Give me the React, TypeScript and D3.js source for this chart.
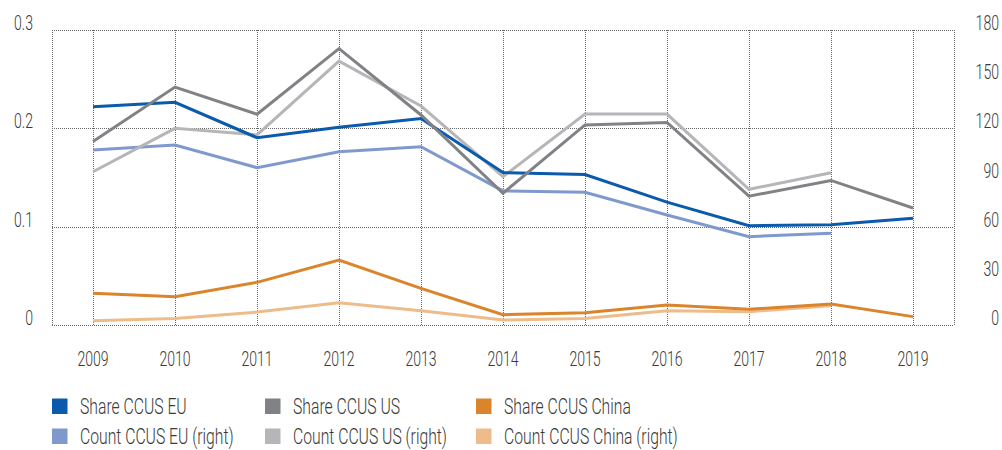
import React, { useRef, useEffect } from 'react';
import * as d3 from 'd3';

// values
const years = ['2009', '2010', '2011', '2012', '2013', '2014', '2015', '2016', '2017', '2018', '2019'];

const shareEU = [0.222, 0.2265, 0.1905, 0.201, 0.21, 0.155, 0.153, 0.125, 0.101, 0.102, 0.1085];
const shareUS = [0.1865, 0.242, 0.2143, 0.281, 0.2136, 0.134, 0.2035, 0.206, 0.131, 0.147, 0.119];
const shareChina = [0.0322, 0.0288, 0.0434, 0.066, 0.0373, 0.0105, 0.0125, 0.0203, 0.016, 0.0214, 0.0085];

const countEU = [106.8, 109.8, 96, 105.7, 108.8, 81.8, 81, 67.1, 53.9, 56, null];
const countUS = [93.5, 120, 116, 161, 133.6, 90.5, 128.7, 128.7, 82.8, 92.9, null];
const countChina = [2.6, 3.9, 7.9, 13.6, 8.7, 3, 4, 8.7, 8.1, 11.8, null];

const leftTicks = [0, 0.1, 0.2, 0.3];
const rightTicks = [0, 30, 60, 90, 120, 150, 180];

const FONT = 'Roboto, "Noto Sans", sans-serif';

const App = () => {
	const svgRef = useRef<SVGSVGElement>(null);

	useEffect(() => {
		const width = 1002;
		const height = 450;
		const left = 52, right = 954, top = 30, bottom = 325;

		const svg = d3.select(svgRef.current)
			.attr('width', width)
			.attr('height', height)
			.style('background', '#fff');
		svg.selectAll('*').remove();

		// scales
		const x = d3.scaleBand().domain(years).range([left, right]);
		const cx = (d: string) => (x(d) as number) + x.bandwidth() / 2;
		const yLeft = d3.scaleLinear().domain([0, 0.3]).range([bottom, top]);
		const yRight = d3.scaleLinear().domain([0, 180]).range([bottom, top]);

		// the original font is a condensed one: place with translate, then squeeze horizontally
		const place = (sel: any, fx: (d: any) => number, fy: (d: any) => number, size: number, squeeze: number) =>
			sel.attr('transform', (d: any) => `translate(${fx(d)}, ${fy(d)}) scale(${squeeze}, 1)`)
				.attr('font-family', FONT)
				.attr('font-size', size)
				.attr('font-weight', 300)
				.attr('fill', '#3a3a3a');

		// dotted grid
		const grid = svg.append('g')
			.attr('stroke', '#666')
			.attr('stroke-width', 1)
			.attr('stroke-dasharray', '1,1')
			.attr('shape-rendering', 'crispEdges');

		grid.selectAll('.hline')
			.data(leftTicks)
			.join('line')
				.attr('x1', left)
				.attr('x2', right)
				.attr('y1', d => Math.round(yLeft(d)) + 0.5)
				.attr('y2', d => Math.round(yLeft(d)) + 0.5);

		grid.selectAll('.vline')
			.data([left, ...years.map(cx), right])
			.join('line')
				.attr('x1', d => Math.round(d) + 0.5)
				.attr('x2', d => Math.round(d) + 0.5)
				.attr('y1', top)
				.attr('y2', bottom);

		// left axis
		place(svg.append('g')
			.selectAll('text')
			.data(leftTicks)
			.join('text')
				.attr('text-anchor', 'end')
				.text(d => d === 0 ? '0' : d3.format('.1f')(d)),
			() => 33, d => yLeft(d), 21, 0.67);

		// right axis
		place(svg.append('g')
			.selectAll('text')
			.data(rightTicks)
			.join('text')
				.attr('text-anchor', 'end')
				.text(d => d),
			() => 999, d => yRight(d), 21, 0.67);

		// x axis labels
		place(svg.append('g')
			.selectAll('text')
			.data(years)
			.join('text')
				.attr('text-anchor', 'middle')
				.text(d => d),
			d => cx(d), () => 366, 21, 0.67);

		// lines
		const series = [
			{ name: 'Count CCUS EU (right)', values: countEU, color: '#8099cd', scale: yRight },
			{ name: 'Count CCUS US (right)', values: countUS, color: '#b6b6b9', scale: yRight },
			{ name: 'Count CCUS China (right)', values: countChina, color: '#edbc8a', scale: yRight },
			{ name: 'Share CCUS EU', values: shareEU, color: '#0a5bab', scale: yLeft },
			{ name: 'Share CCUS US', values: shareUS, color: '#818285', scale: yLeft },
			{ name: 'Share CCUS China', values: shareChina, color: '#da842b', scale: yLeft },
		];

		series.forEach(s => {
			const line = d3.line<number | null>()
				.defined(d => d != null)
				.x((d, i) => cx(years[i]))
				.y(d => s.scale(d as number));
			svg.append('path')
				.datum(s.values)
				.attr('d', line)
				.attr('fill', 'none')
				.attr('stroke', s.color)
				.attr('stroke-width', 3)
				.attr('stroke-linejoin', 'miter');
		});

		// legend
		const legendOrder = [
			{ name: 'Share CCUS EU', color: '#0a5bab' },
			{ name: 'Share CCUS US', color: '#818285' },
			{ name: 'Share CCUS China', color: '#da842b' },
			{ name: 'Count CCUS EU (right)', color: '#8099cd' },
			{ name: 'Count CCUS US (right)', color: '#b6b6b9' },
			{ name: 'Count CCUS China (right)', color: '#edbc8a' },
		];
		const colX = [52, 265, 476];
		const rowY = [406, 436];

		const legend = svg.append('g')
			.selectAll('g')
			.data(legendOrder)
			.join('g')
				.attr('transform', (d, i) => `translate(${colX[i % 3]}, ${rowY[Math.floor(i / 3)]})`);

		legend.append('rect')
			.attr('x', 0)
			.attr('y', -7.5)
			.attr('width', 15.5)
			.attr('height', 15.5)
			.attr('fill', d => d.color);

		place(legend.append('text').text(d => d.name), () => 28, () => 8, 22, 0.715);
	}, []);

	return (
		<div style={{ position: 'absolute', left: 0, top: 0 }}>
			<svg ref={svgRef} style={{ display: 'block' }}></svg>
		</div>
	);
};

export default App;
